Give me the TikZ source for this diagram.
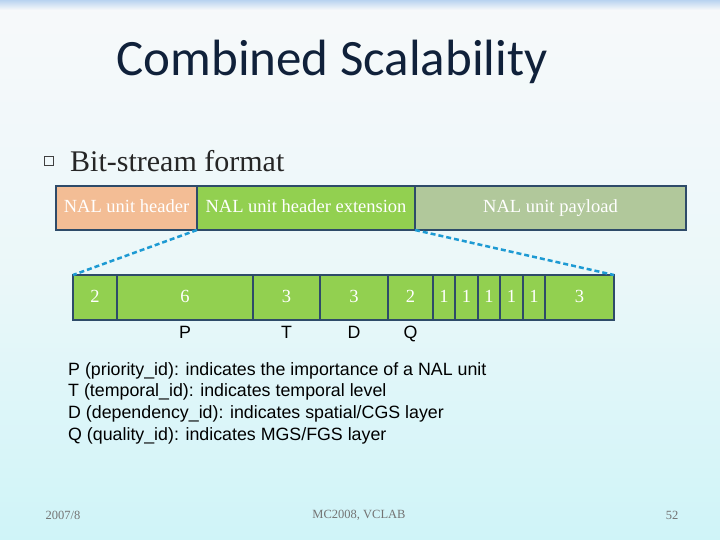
\documentclass[tikz,border=0pt]{standalone}
\usepackage{fontspec}
\setmainfont{Liberation Serif}
\setsansfont{Liberation Sans}
\newfontfamily\titlefont{Carlito}
\usetikzlibrary{positioning}
\definecolor{hdrfill}{HTML}{F3BD95}
\definecolor{extfill}{HTML}{92D050}
\definecolor{payfill}{HTML}{B1C89B}
\definecolor{barline}{HTML}{2E4B69}
\definecolor{zoomblue}{HTML}{1D9AD3}
\definecolor{titlenavy}{HTML}{10213A}
\definecolor{bgtop}{HTML}{F7F9FA}
\definecolor{bgbot}{HTML}{CFF4F8}
\definecolor{bandblue}{HTML}{B9D3F0}
\begin{document}
\begin{tikzpicture}[x=1pt, y=-1pt,
    field/.style={draw=barline, line width=2.5pt, inner sep=0pt, outer sep=0pt,
      minimum height=44pt, text height=1em, text depth=0pt,
      text=white, font=\fontsize{18.5}{20}\selectfont},
    letter/.style={font=\sffamily\fontsize{17.8}{20}\selectfont, inner sep=0pt},
    foot/.style={font=\fontsize{12.5}{14}\selectfont, text=black!55},
    zoomline/.style={draw=zoomblue, line width=2.5pt, dash pattern=on 5pt off 3pt}]
  \useasboundingbox (0,0) rectangle (720,540);
  % slide background
  \shade[top color=bgtop, bottom color=bgbot, middle color=bgtop!70!bgbot] (0,0) rectangle (720,540);
  \shade[top color=bandblue, bottom color=bgtop] (0,0) rectangle (720,10);
  \node[font=\titlefont\fontsize{51}{56}\selectfont, text=titlenavy] (title) at (332,62) {Combined Scalability};
  \node[draw=black!75, line width=0.6pt, minimum size=9pt, inner sep=0pt] (bul) at (49,161) {};
  \node[anchor=west, inner sep=0pt, text=black!85, font=\fontsize{30}{34}\selectfont] (sub) at (70,161) {Bit-stream format};
  % NAL unit layout
  \node[field, fill=hdrfill, minimum width=141pt] (hdr) at (126.5,208) {NAL unit header};
  \node[field, fill=extfill, minimum width=218pt, right=0pt of hdr] (ext) {NAL unit header extension};
  \node[field, fill=payfill, minimum width=271pt, right=0pt of ext] (pay) {NAL unit payload};
  % header extension bits
  \foreach \a/\b/\t [count=\i] in {73/117/2, 117/253/6, 253/320/3, 320/388/3, 388/433/2,
      433/455/1, 455/478/1, 478/500/1, 500/523/1, 523/545/1, 545/614/3}
    \node[field, fill=extfill, minimum height=45pt, minimum width={\b-\a}] (c\i) at ({(\a+\b)/2},297.5) {\t};
  \draw[zoomline] (ext.south west) -- (c1.north west);
  \draw[zoomline] (ext.south east) -- (c11.north east);
  \foreach \k/\l in {2/P, 3/T, 4/D, 5/Q}
    \node[letter, below=6pt of c\k] (l\l) {\l};
  \node[letter, anchor=north west, align=left, font=\sffamily\fontsize{17.8}{21.8}\selectfont] (desc) at (68,362)
    {P (priority\_id): indicates the importance of a NAL unit\\
     T (temporal\_id): indicates temporal level\\
     D (dependency\_id): indicates spatial/CGS layer\\
     Q (quality\_id): indicates MGS/FGS layer};
  \node[foot] (date) at (63,515) {2007/8};
  \node[foot] (lab) at (359,515) {MC2008, VCLAB};
  \node[foot] (page) at (672,515) {52};
\end{tikzpicture}
\end{document}
